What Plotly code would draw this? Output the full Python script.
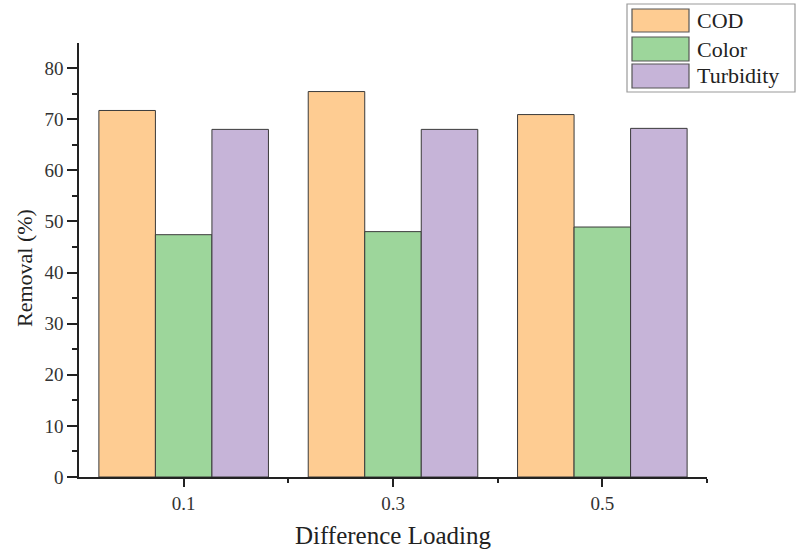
import plotly.graph_objects as go

# ---- data ----
categories = ["0.1", "0.3", "0.5"]
series_names = ["COD", "Color", "Turbidity"]
cod = [71.7, 75.4, 70.9]
color = [47.4, 48.0, 48.9]
turbidity = [68.0, 68.0, 68.2]
series_values = [cod, color, turbidity]
fill_colors = ["#FECC92", "#9DD69B", "#C6B4D8"]
y_tickvals = [0, 10, 20, 30, 40, 50, 60, 70, 80]

W, H = 799, 549
ML, MR, MT, MB = 79, 92, 43, 72
PW, PH = W - ML - MR, H - MT - MB

def px_x(px):
    return (px - ML) / PW

def px_y(py):
    return (H - MB - py) / PH

FONT = "Liberation Serif"
xpos = list(range(len(categories)))

fig = go.Figure()
for name, vals, col in zip(series_names, series_values, fill_colors):
    fig.add_trace(go.Bar(
        x=xpos, y=vals, name=name,
        marker=dict(color=col, line=dict(color="#3a3a3a", width=1)),
        showlegend=False,
    ))

fig.update_layout(
    width=W, height=H,
    margin=dict(l=ML, r=MR, t=MT, b=MB, autoexpand=False),
    paper_bgcolor="white", plot_bgcolor="white",
    barmode="group", bargap=0.19, bargroupgap=0,
    font=dict(family=FONT, color="#222222"),
)

fig.update_xaxes(
    automargin=False,
    range=[-0.5, 2.5], tickmode="array", tickvals=xpos, ticktext=categories,
    showline=True, linecolor="#222222", linewidth=1.5,
    ticks="outside", ticklen=8, tickwidth=1.5, tickcolor="#222222",
    minor=dict(ticks="outside", ticklen=4, tickwidth=1.5, tickcolor="#222222",
               tickmode="array", tickvals=[0.5, 1.5, 2.5]),
    showgrid=False, zeroline=False,
    tickfont=dict(size=19, family=FONT, color="#333333"),
    title=dict(text="Difference Loading", font=dict(size=25, family=FONT, color="#222222"), standoff=14),
)
fig.update_yaxes(
    automargin=False,
    range=[0, 84.9], tickmode="array", tickvals=y_tickvals,
    showline=True, linecolor="#222222", linewidth=1.5,
    ticks="outside", ticklen=10, tickwidth=1.5, tickcolor="#222222",
    minor=dict(ticks="outside", ticklen=5, tickwidth=1.5, tickcolor="#222222", dtick=5, tick0=0),
    showgrid=False, zeroline=False,
    tickfont=dict(size=19, family=FONT, color="#333333"),
)

# y-axis title, placed like the reference (slightly below the plot centre)
fig.add_annotation(xref="paper", yref="paper", x=px_x(24), y=px_y(268),
                   text="Removal (%)", textangle=-90, showarrow=False,
                   xanchor="center", yanchor="middle",
                   font=dict(size=22, family=FONT, color="#222222"))

# ---- custom legend (large swatches like the reference) ----
fig.add_shape(type="rect", xref="paper", yref="paper",
              x0=px_x(627), x1=px_x(795), y0=px_y(92), y1=px_y(4),
              line=dict(color="#9a9a9a", width=1.2), fillcolor="white", layer="above")
rows = [(9, 32), (37, 61), (64, 88)]
for (top, bot), name, col in zip(rows, series_names, fill_colors):
    fig.add_shape(type="rect", xref="paper", yref="paper",
                  x0=px_x(632), x1=px_x(689), y0=px_y(bot), y1=px_y(top),
                  line=dict(color="#555555", width=1.2), fillcolor=col, layer="above")
    fig.add_annotation(xref="paper", yref="paper", x=px_x(695), y=px_y((top + bot) / 2),
                       text=name, showarrow=False, xanchor="left", yanchor="middle",
                       font=dict(size=22, family=FONT, color="#222222"))

fig.write_html("out.html", config={"displayModeBar": False},
               post_script="document.body.style.margin='0';")
